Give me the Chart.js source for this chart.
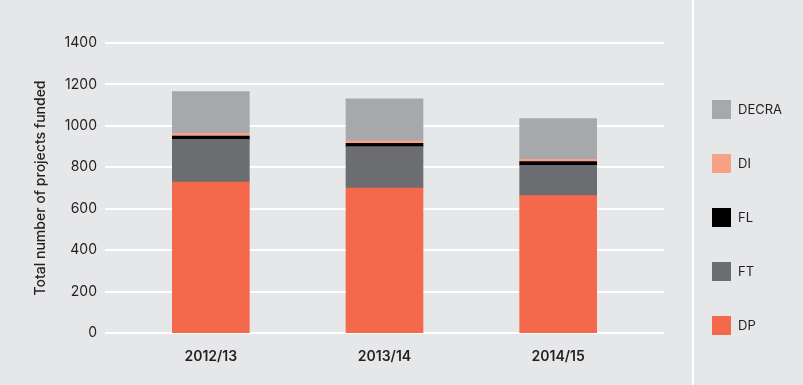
<!DOCTYPE html>
<html>
<head>
<meta charset="utf-8">
<script src="https://cdn.jsdelivr.net/npm/chart.js@4"></script>
<style>
  html, body { margin: 0; padding: 0; background: #e6e7e8; }
  #wrap { width: 803px; height: 385px; }
</style>
</head>
<body>
<div id="wrap"><canvas id="funded-chart" width="803" height="385"></canvas></div>
<script>
const years = ["2012/13", "2013/14", "2014/15"];
const dpValues = [729, 700, 663];
const ftValues = [206, 200, 147];
const flValues = [16, 16, 17];
const diValues = [13, 12, 12];
const decraValues = [201, 202, 196];
const yTicks = [0, 200, 400, 600, 800, 1000, 1200, 1400];

const textColor = "#231f20";
const fontFamily = "Inter, 'Noto Sans', sans-serif";

// grid lines run wider than the category axis, and the legend sits in a side panel
const backdrop = {
  id: "backdrop",
  beforeDatasetsDraw(chart) {
    const c = chart.ctx;
    const y = chart.scales.y;
    c.save();
    c.strokeStyle = "#ffffff";
    c.lineWidth = 2;
    yTicks.forEach(v => {
      const py = Math.round(y.getPixelForValue(v));
      c.beginPath();
      c.moveTo(105, py);
      c.lineTo(664, py);
      c.stroke();
    });
    c.beginPath();
    c.moveTo(693, 0);
    c.lineTo(693, chart.height);
    c.stroke();
    c.restore();
  },
  afterDraw(chart) {
    const c = chart.ctx;
    const sets = chart.data.datasets.slice().reverse();
    c.save();
    c.font = "13px " + fontFamily;
    c.textBaseline = "middle";
    c.fillStyle = textColor;
    sets.forEach((ds, i) => {
      const cy = 109 + i * 54.1;
      c.fillStyle = ds.backgroundColor;
      c.fillRect(712, Math.round(cy - 9.5), 19, 19);
      c.fillStyle = textColor;
      c.fillText(ds.label, 738, cy + 1);
    });
    c.restore();
  }
};

const ctx = document.getElementById("funded-chart").getContext("2d");

new Chart(ctx, {
  type: "bar",
  data: {
    labels: years,
    datasets: [
      { label: "DP", data: dpValues, backgroundColor: "#f4694b" },
      { label: "FT", data: ftValues, backgroundColor: "#6c6d70" },
      { label: "FL", data: flValues, backgroundColor: "#000000" },
      { label: "DI", data: diValues, backgroundColor: "#f9a186" },
      { label: "DECRA", data: decraValues, backgroundColor: "#a7a8ab" }
    ]
  },
  options: {
    responsive: false,
    animation: false,
    layout: { padding: { top: 43, right: 158, bottom: 0, left: 0 } },
    datasets: { bar: { barThickness: 77 } },
    plugins: {
      legend: { display: false },
      tooltip: { enabled: false }
    },
    scales: {
      x: {
        stacked: true,
        offset: true,
        grid: { display: false, drawTicks: false },
        border: { display: false },
        ticks: {
          padding: 15,
          color: textColor,
          font: { family: fontFamily, size: 14, weight: "600" }
        },
        afterFit(scale) { scale.height = 52; }
      },
      y: {
        stacked: true,
        min: 0,
        max: 1400,
        grid: { display: false, drawTicks: false },
        border: { display: false },
        ticks: {
          stepSize: 200,
          padding: 27,
          color: textColor,
          font: { family: fontFamily, size: 14 },
          callback: v => String(v)
        },
        title: {
          display: true,
          text: "Total number of projects funded",
          color: textColor,
          padding: { top: 32, bottom: 0 },
          font: { family: fontFamily, size: 14, weight: "500" }
        },
        afterFit(scale) { scale.width = 124; }
      }
    }
  },
  plugins: [backdrop]
});
</script>
</body>
</html>
